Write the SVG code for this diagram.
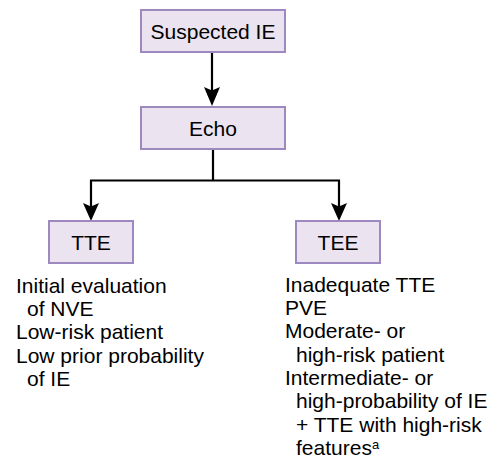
<svg xmlns="http://www.w3.org/2000/svg" width="491" height="462" viewBox="0 0 491 462">
<style>
.box{fill:#ebe3f0;stroke:#9d88c0;stroke-width:2}
.bt{font-family:"Liberation Sans",Arial,sans-serif;font-size:21px;fill:#000;text-anchor:middle}
.t{font-family:"Liberation Sans",Arial,sans-serif;font-size:21px;fill:#000}
.ln{fill:none;stroke:#000;stroke-width:2.2}
.ah{fill:#000}
</style>
<rect width="491" height="462" fill="#fff"/>
<g id="connectors">
<line class="ln" x1="212" y1="52" x2="212" y2="100"/>
<path class="ah" d="M204,87 L212,90.5 L220,87 L212,106 Z"/>
<polyline class="ln" points="213,149 213,180.5"/>
<polyline class="ln" points="91,215 91,180.5 339,180.5 339,215"/>
<path class="ah" d="M83,203 L91,206.5 L99,203 L91,221 Z"/>
<path class="ah" d="M331,203 L339,206.5 L347,203 L339,221 Z"/>
</g>
<g id="suspected-ie">
<rect class="box" x="141" y="10" width="144" height="42"/>
<text class="bt" x="213" y="38.5">Suspected IE</text>
</g>
<g id="echo">
<rect class="box" x="141" y="107" width="144" height="42"/>
<text class="bt" x="213" y="135.5">Echo</text>
</g>
<g id="tte">
<rect class="box" x="49" y="221" width="84" height="42"/>
<text class="bt" x="91" y="249.5">TTE</text>
</g>
<g id="tee">
<rect class="box" x="296" y="221" width="84" height="42"/>
<text class="bt" x="338" y="249.5">TEE</text>
</g>
<g id="tte-notes">
<text class="t" x="16" y="292.7">Initial evaluation</text>
<text class="t" x="27" y="316">of NVE</text>
<text class="t" x="16" y="339.3">Low-risk patient</text>
<text class="t" x="16" y="362.6">Low prior probability</text>
<text class="t" x="27" y="385.9">of IE</text>
</g>
<g id="tee-notes">
<text class="t" x="285" y="291.7">Inadequate TTE</text>
<text class="t" x="285" y="315">PVE</text>
<text class="t" x="285" y="338.3">Moderate- or</text>
<text class="t" x="296" y="361.6">high-risk patient</text>
<text class="t" x="285" y="384.9">Intermediate- or</text>
<text class="t" x="296" y="408.2">high-probability of IE</text>
<text class="t" x="296" y="431.5">+ TTE with high-risk</text>
<text class="t" x="296" y="454.8">features<tspan font-size="13px" dy="-5.5">a</tspan></text>
</g>
</svg>
